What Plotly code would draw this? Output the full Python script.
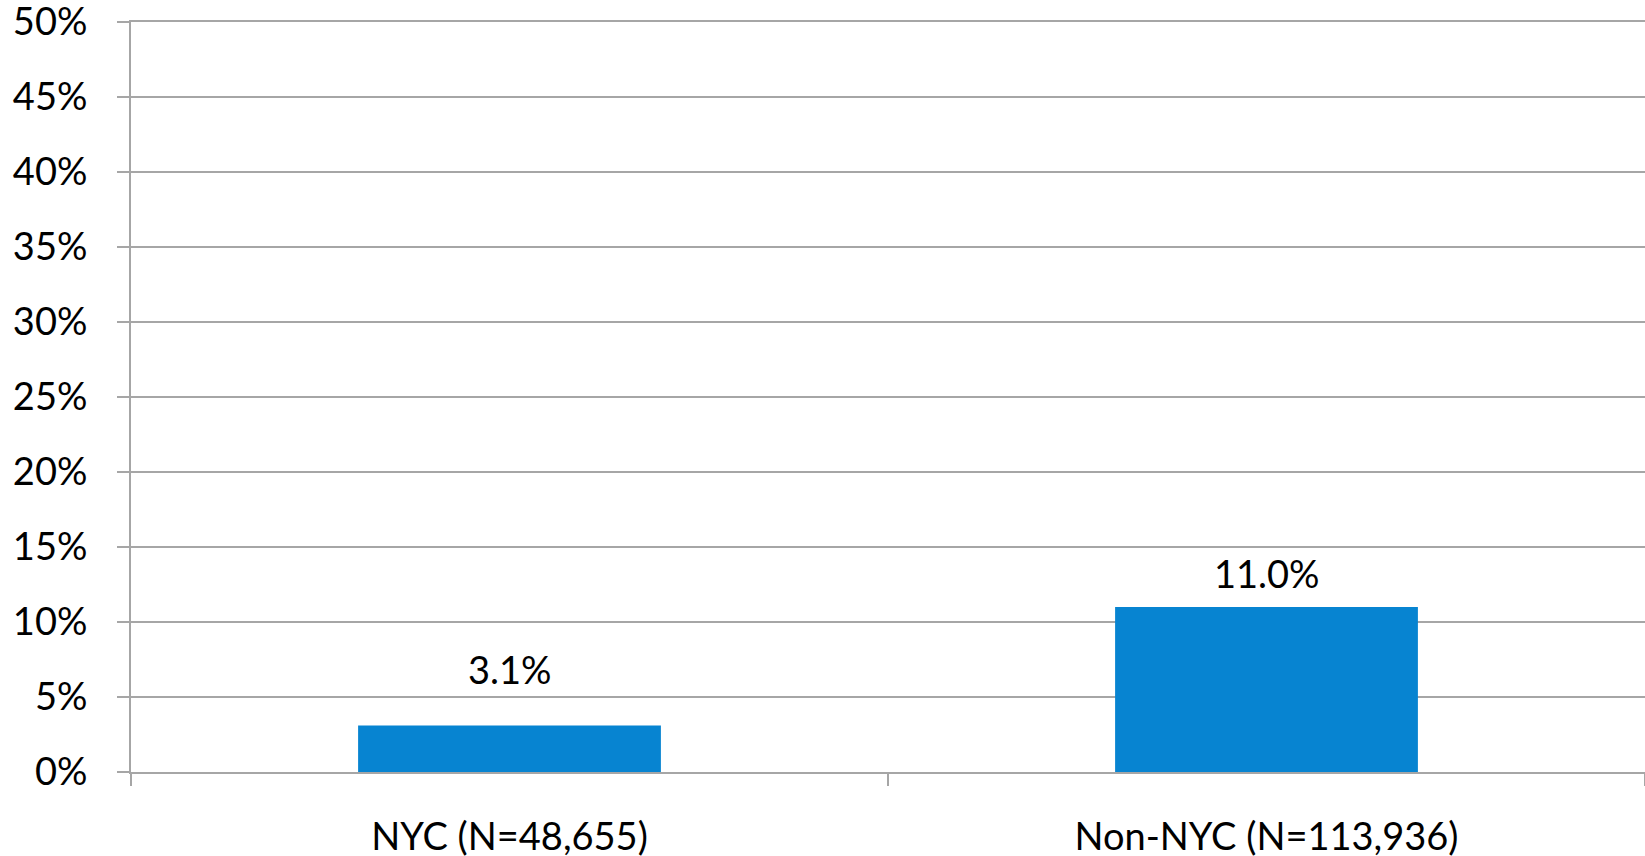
import plotly.graph_objects as go

# data
categories = ['NYC (N=48,655)', 'Non-NYC (N=113,936)']
values = [0.031, 0.110]
value_labels = ['3.1%', '11.0%']
ytick_vals = [0, 0.05, 0.10, 0.15, 0.20, 0.25, 0.30, 0.35, 0.40, 0.45, 0.50]

# styles
bar_color = '#0784D1'
grey = '#A6A6A6'
font_family = 'Lato'
font_size = 38
label_shift = [32, 9]


def main():
    fig = go.Figure()

    fig.add_trace(
        go.Bar(x=categories, y=values,
               marker=dict(color=bar_color, line=dict(width=0)),
               hoverinfo='skip')
    )

    for cat, val, txt, shift in zip(categories, values, value_labels, label_shift):
        fig.add_annotation(x=cat, y=val, text=txt, showarrow=False,
                           yanchor='bottom', yshift=shift,
                           font=dict(family=font_family, size=font_size, color='black'))

    fig.update_layout(
        width=1645, height=856,
        margin=dict(l=131, r=0, t=22, b=84, pad=0, autoexpand=False),
        plot_bgcolor='white', paper_bgcolor='white',
        bargap=0.6, showlegend=False,
        font=dict(family=font_family, size=font_size, color='black'),
    )
    fig.update_yaxes(
        range=[0, 0.5], tickvals=ytick_vals, tickformat='.0%',
        showgrid=True, gridcolor=grey, gridwidth=2,
        showline=True, linecolor=grey, linewidth=2,
        ticks='outside', ticklen=12, tickcolor=grey, tickwidth=2,
        ticklabelstandoff=22, ticklabeloverflow='allow',
        zeroline=False, automargin=False,
    )
    # mirrored line stands in for the 50% gridline at the top edge
    fig.update_xaxes(
        showline=True, linecolor=grey, linewidth=2, mirror=True,
        ticks='outside', ticklen=12, tickcolor=grey, tickwidth=2,
        tickson='boundaries', ticklabelstandoff=30, showgrid=False,
        ticklabeloverflow='allow', automargin=False,
    )

    # drop the default 8px body margin so the figure sits at the page corner
    fig.write_html('out.html', config=dict(displayModeBar=False),
                   post_script="document.body.style.margin = '0';")


if __name__ == '__main__':
    main()
